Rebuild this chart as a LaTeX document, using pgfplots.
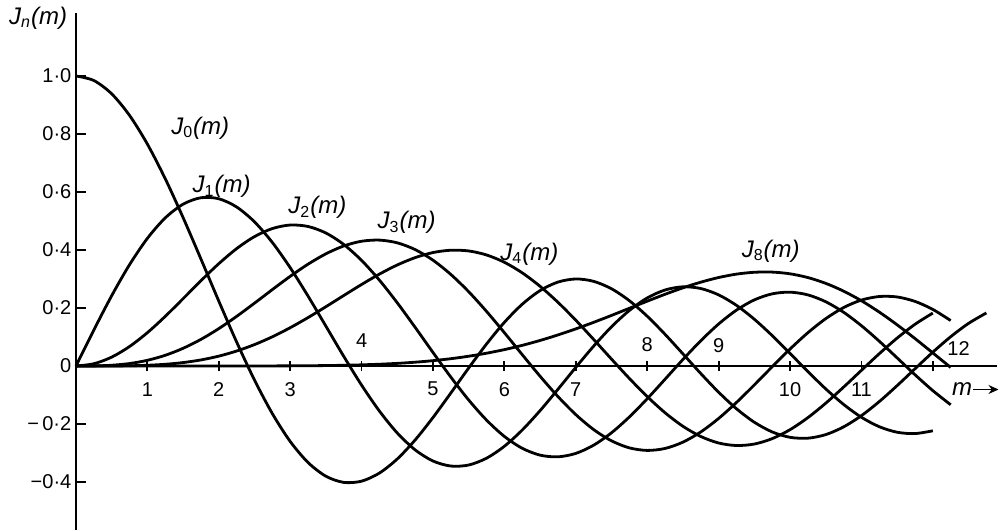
\documentclass[border=0pt]{standalone}
\usepackage{fontspec}
\setmainfont{Liberation Sans}
\usepackage{pgfplots}
\pgfplotsset{compat=1.18}
\usepackage{pgfplotstable}
\usetikzlibrary{arrows.meta}

% Bessel functions of the first kind J_n(m) for n = 0, 1, 2, 3, 4 and 8
\pgfplotstableread{
x     J0      J1      J2      J3      J4      J8
0     1       0       0       0       0       0
0.25  0.9844  0.1240  0.0078  0.0003  0       0
0.5   0.9385  0.2423  0.0306  0.0026  0.0002  0
0.75  0.8642  0.3493  0.0671  0.0085  0.0008  0
1     0.7652  0.4401  0.1149  0.0196  0.0025  0
1.25  0.6459  0.5106  0.1711  0.0369  0.0059  0
1.5   0.5118  0.5579  0.2321  0.0610  0.0118  0
1.75  0.3690  0.5802  0.2940  0.0918  0.0209  0
2     0.2239  0.5767  0.3528  0.1289  0.0340  0
2.25  0.0828  0.5483  0.4047  0.1711  0.0516  0
2.5   -0.0484 0.4971  0.4461  0.2166  0.0738  0.0001
2.75  -0.1641 0.4260  0.4739  0.2634  0.1007  0.0003
3     -0.2601 0.3391  0.4861  0.3091  0.1320  0.0005
3.25  -0.3327 0.2411  0.4811  0.3511  0.1669  0.0009
3.5   -0.3801 0.1374  0.4586  0.3868  0.2044  0.0015
3.75  -0.4013 0.0333  0.4191  0.4139  0.2430  0.0025
4     -0.3971 -0.0660 0.3641  0.4302  0.2811  0.0040
4.25  -0.3691 -0.1555 0.2959  0.4341  0.3169  0.0061
4.5   -0.3205 -0.2311 0.2178  0.4247  0.3484  0.0091
4.75  -0.2551 -0.2892 0.1333  0.4014  0.3737  0.0131
5     -0.1776 -0.3276 0.0466  0.3648  0.3912  0.0184
5.25  -0.0931 -0.3450 -0.0383 0.3157  0.3992  0.0252
5.5   -0.0068 -0.3414 -0.1173 0.2561  0.3967  0.0337
5.75  0.0759  -0.3179 -0.1865 0.1882  0.3829  0.0441
6     0.1506  -0.2767 -0.2429 0.1148  0.3576  0.0565
6.25  0.2130  -0.2207 -0.2837 0.0391  0.3212  0.0712
6.5   0.2601  -0.1538 -0.3074 -0.0354 0.2747  0.0881
6.75  0.2894  -0.0803 -0.3132 -0.1053 0.2196  0.1071
7     0.3001  -0.0047 -0.3014 -0.1676 0.1578  0.1280
7.25  0.2919  0.0685  -0.2730 -0.2192 0.0916  0.1506
7.5   0.2663  0.1352  -0.2302 -0.2580 0.0238  0.1744
7.75  0.2252  0.1915  -0.1757 -0.2823 -0.0428 0.1990
8     0.1717  0.2346  -0.1130 -0.2911 -0.1054 0.2235
8.25  0.1092  0.2621  -0.0456 -0.2843 -0.1612 0.2473
8.5   0.0419  0.2731  0.0224  -0.2626 -0.2078 0.2695
8.75  -0.0259 0.2672  0.0870  -0.2274 -0.2430 0.2890
9     -0.0903 0.2453  0.1448  -0.1809 -0.2655 0.3051
9.25  -0.1474 0.2091  0.1926  -0.1258 -0.2742 0.3168
9.5   -0.1939 0.1613  0.2279  -0.0653 -0.2691 0.3232
9.75  -0.2273 0.1049  0.2488  -0.0027 -0.2505 0.3238
10    -0.2459 0.0435  0.2546  0.0584  -0.2196 0.3179
10.25 -0.2489 -0.0190 0.2452  0.1147  -0.1781 0.3050
10.5  -0.2366 -0.0788 0.2216  0.1632  -0.1283 0.2850
10.75 -0.2100 -0.1324 0.1854  0.2014  -0.0729 0.2582
11    -0.1712 -0.1768 0.1390  0.2273  -0.0150 0.2250
11.25 -0.1227 -0.2093 0.0855  0.2396  0.0424  0.1859
11.5  -0.0677 -0.2284 0.0280  0.2381  0.0962  0.1421
11.75 -0.0097 -0.2330 -0.0300 0.2228  0.1438  0.0947
12    0.0477  -0.2234 -0.0849 0.1951  0.1825  0.0451
12.25 0.1009  -0.2004 -0.1336 0.1567  0.2104  -0.0050
12.5  0.1469  -0.1655 -0.1734 0.1100  0.2262  -0.0539
12.75 0.1829  -0.1212 -0.2019 0.0579  0.2291  -0.0996
}\besseltab

\tikzset{
  besselcurve/.style={black, line width=1.4pt, smooth, mark=none},
  lbl/.style={inner sep=0pt},
  ylbl/.style={inner sep=0pt, anchor=east},
  clbl/.style={inner sep=0pt, font=\fontsize{12}{14}\selectfont},
}
\newcommand{\Jn}[1]{{\itshape J}\textsubscript{#1}{\itshape (m)}}

\begin{document}
\begin{tikzpicture}
\begin{axis}[
  scale only axis, width=500.5pt, height=265pt,
  xmin=-1.064, xmax=12.955, ymin=-0.5655, ymax=1.262,
  axis lines=middle,
  axis line style={draw=none},
  xtick={1,2,3,4,5,6,7,8,9,10,11,12},
  ytick={-0.4,-0.2,0.2,0.4,0.6,0.8,1.0},
  xticklabels={}, yticklabels={},
  major tick length=5pt, tick align=center,
  tick style={black, line width=0.9pt},
  ytick style={xshift=2.5pt},
  clip=false,
  font=\fontsize{10}{12}\selectfont,
]
\path (rel axis cs:0,0) rectangle (rel axis cs:1,1);

% axes
\draw[line width=1pt] (axis cs:0,-0.5655) -- (axis cs:0,1.217);
\draw[line width=1pt] (axis cs:0,0) -- (axis cs:12.9,0);

% curves
\addplot[besselcurve, restrict x to domain=0:12.75] table[x=x, y=J0] {\besseltab};
\addplot[besselcurve, restrict x to domain=0:12]    table[x=x, y=J1] {\besseltab};
\addplot[besselcurve, restrict x to domain=0:12.25] table[x=x, y=J2] {\besseltab};
\addplot[besselcurve, restrict x to domain=0:12.25] table[x=x, y=J3] {\besseltab};
\addplot[besselcurve, restrict x to domain=0:12]    table[x=x, y=J4] {\besseltab};
\addplot[besselcurve, restrict x to domain=0:12.25] table[x=x, y=J8] {\besseltab};

% y tick labels
\node[ylbl] at (axis cs:-0.06,1.0)  {1·0};
\node[ylbl] at (axis cs:-0.06,0.8)  {0·8};
\node[ylbl] at (axis cs:-0.06,0.6)  {0·6};
\node[ylbl] at (axis cs:-0.06,0.4)  {0·4};
\node[ylbl] at (axis cs:-0.06,0.2)  {0·2};
\node[ylbl] at (axis cs:-0.06,0)    {0};
\node[ylbl] at (axis cs:-0.06,-0.2) {−\,0·2};
\node[ylbl] at (axis cs:-0.06,-0.4) {−0·4};

% x tick labels, below and above the axis
\node[lbl] at (axis cs:1,-0.08)  {1};
\node[lbl] at (axis cs:2,-0.08)  {2};
\node[lbl] at (axis cs:3,-0.08)  {3};
\node[lbl] at (axis cs:4,0.089)  {4};
\node[lbl] at (axis cs:5,-0.08)  {5};
\node[lbl] at (axis cs:6,-0.08)  {6};
\node[lbl] at (axis cs:7,-0.08)  {7};
\node[lbl] at (axis cs:8,0.074)  {8};
\node[lbl] at (axis cs:9,0.07)   {9};
\node[lbl] at (axis cs:10,-0.08) {10};
\node[lbl] at (axis cs:11,-0.08) {11};
\node[lbl] at (axis cs:12.36,0.06) {12};

% axis names
\node[clbl] at (axis cs:12.41,-0.081) {\itshape m};
\draw[line width=0.9pt, -{Stealth[length=5pt,width=4.5pt]}] (axis cs:12.56,-0.081) -- (axis cs:12.92,-0.081);
\node[clbl] at (axis cs:-0.53,1.2) {\Jn{\itshape n}};

% curve names
\node[clbl] at (axis cs:1.74,0.82)  {\Jn{0}};
\node[clbl] at (axis cs:2.04,0.619) {\Jn{1}};
\node[clbl] at (axis cs:3.38,0.546) {\Jn{2}};
\node[clbl] at (axis cs:4.63,0.494) {\Jn{3}};
\node[clbl] at (axis cs:6.35,0.386) {\Jn{4}};
\node[clbl] at (axis cs:9.73,0.396) {\Jn{8}};
\end{axis}
\end{tikzpicture}
\end{document}
